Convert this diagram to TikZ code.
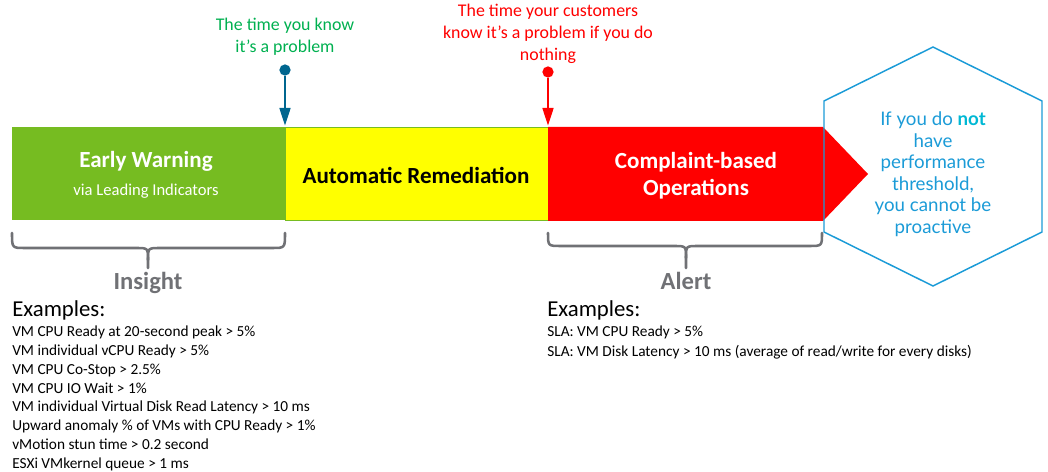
\documentclass[tikz,border=0pt]{standalone}
\usepackage{fontspec}
\setmainfont{Carlito}
\newfontfamily\hexfont{Lato}
\usepackage{tikz}
\usetikzlibrary{arrows.meta}

\definecolor{warngreen}{RGB}{118,188,33}
\definecolor{remedyellow}{RGB}{255,255,0}
\definecolor{alarmred}{RGB}{255,0,0}
\definecolor{knowgreen}{RGB}{0,176,80}
\definecolor{pinblue}{RGB}{0,102,143}
\definecolor{bracegray}{RGB}{112,113,117}
\definecolor{hexblue}{RGB}{27,155,215}
\definecolor{notcyan}{RGB}{0,184,212}

\begin{document}
\begin{tikzpicture}[x=0.025cm, y=-0.025cm, >={Triangle[length=12.8pt,width=7.5pt]},
  every node/.style={inner sep=0pt},
  bartitle/.style={font=\fontsize{16.4}{19}\selectfont\bfseries, anchor=base},
  barsub/.style={font=\fontsize{11.8}{14}\selectfont, text=white, anchor=base},
  note/.style={font=\fontsize{12.7}{15.6}\selectfont, align=center, anchor=south},
  pinhead/.style={circle, minimum size=8pt},
  pinline/.style={line width=2.1pt, ->},
  bracestroke/.style={draw=bracegray, line width=1.8pt, line cap=round},
  phase/.style={font=\fontsize{17.5}{20}\selectfont\bfseries, text=bracegray, anchor=base},
  exhead/.style={font=\fontsize{16.2}{19}\selectfont, anchor=base west},
  exline/.style={font=\fontsize{10.9}{13.4}\selectfont, anchor=base west},
  hexline/.style={draw=hexblue, line width=1.05pt},
  hexnote/.style={font=\hexfont\fontsize{13.3}{15.3}\selectfont, text=hexblue, align=center, anchor=south}]
  \useasboundingbox (0,0) rectangle (1048,472);
  \def\phasebrace#1#2#3#4{%
    \draw[bracestroke] (#1,233) .. controls (#1,#4) .. (#1+13,#4) -- (#2-12,#4)
      .. controls (#2,#4) .. (#2,#4+12) -- (#2,268);
    \draw[bracestroke] (#2,#4+12) .. controls (#2,#4) .. (#2+12,#4) -- (#3-13,#4)
      .. controls (#3,#4) .. (#3,233);}

  % the three phases
  \draw[draw=none, fill=warngreen] (12,127) rectangle (285,220) node[midway] (warn) {};
  \draw[draw=warngreen, line width=0.6pt, fill=remedyellow] (285,127) rectangle (548,220) node[midway] (remedy) {};
  \fill[alarmred] (548,127) -- (823,127) -- (868,174) -- (823,221) -- (548,221) -- cycle;
  \node[bartitle, text=white] (warnt) at (146,167.5) {Early Warning};
  \node[barsub] (warns) at (146,196) {via Leading Indicators};
  \node[bartitle] (remedyt) at (416,183.5) {Automatic Remediation};
  \node[bartitle, text=white] (complt) at (696,168.5) {Complaint-based};
  \node[bartitle, text=white] (compls) at (696,195.5) {Operations};

  % when the problem is known
  \node[note, text=knowgreen] (knownote) at (285,55.6) {The time you know\\it’s a problem};
  \node[note, text=alarmred] (custnote) at (548,63.6) {The time your customers\\know it’s a problem if you do\\nothing};
  \node[pinhead, fill=pinblue] (knowpin) at (285,70) {};
  \node[pinhead, fill=alarmred] (custpin) at (548,72) {};
  \coordinate (knowhit) at (285,126);
  \coordinate (custhit) at (548,126);
  \draw[pinline, draw=pinblue] (knowpin) -- (knowhit);
  \draw[pinline, draw=alarmred] (custpin) -- (custhit);

  % braces
  \phasebrace{12}{148}{285}{248}
  \phasebrace{548}{686}{822}{246}
  \node[phase] (insight) at (148,290) {Insight};
  \node[phase] (alert) at (686,290) {Alert};

  % examples
  \node[exhead] (insexh) at (12,317) {Examples:};
  \foreach \ex [count=\i] in {VM CPU Ready at 20-second peak > 5\%,
      VM individual vCPU Ready > 5\%, VM CPU Co-Stop > 2.5\%, VM CPU IO Wait > 1\%,
      VM individual Virtual Disk Read Latency > 10 ms,
      Upward anomaly \% of VMs with CPU Ready > 1\%,
      vMotion stun time > 0.2 second, ESXi VMkernel queue > 1 ms}
    \node[exline] (insex\i) at (12,{336.5+18.86*(\i-1)}) {\ex};
  \node[exhead] (alexh) at (547,317) {Examples:};
  \node[exline] (alex1) at (547,336.7) {SLA: VM CPU Ready > 5\%};
  \node[exline] (alex2) at (547,356.2) {SLA: VM Disk Latency > 10 ms (average of read/write for every disks)};

  % no threshold
  \draw[hexline] (933,47) -- (1042,101) -- (1042,232) -- (933,286) -- (824,232) -- (824,101) -- cycle;
  \node[hexnote] (noproact) at (933,237) {If you do {\bfseries\color{notcyan}not}\\have\\performance\\threshold,\\you cannot be\\proactive};
\end{tikzpicture}
\end{document}
